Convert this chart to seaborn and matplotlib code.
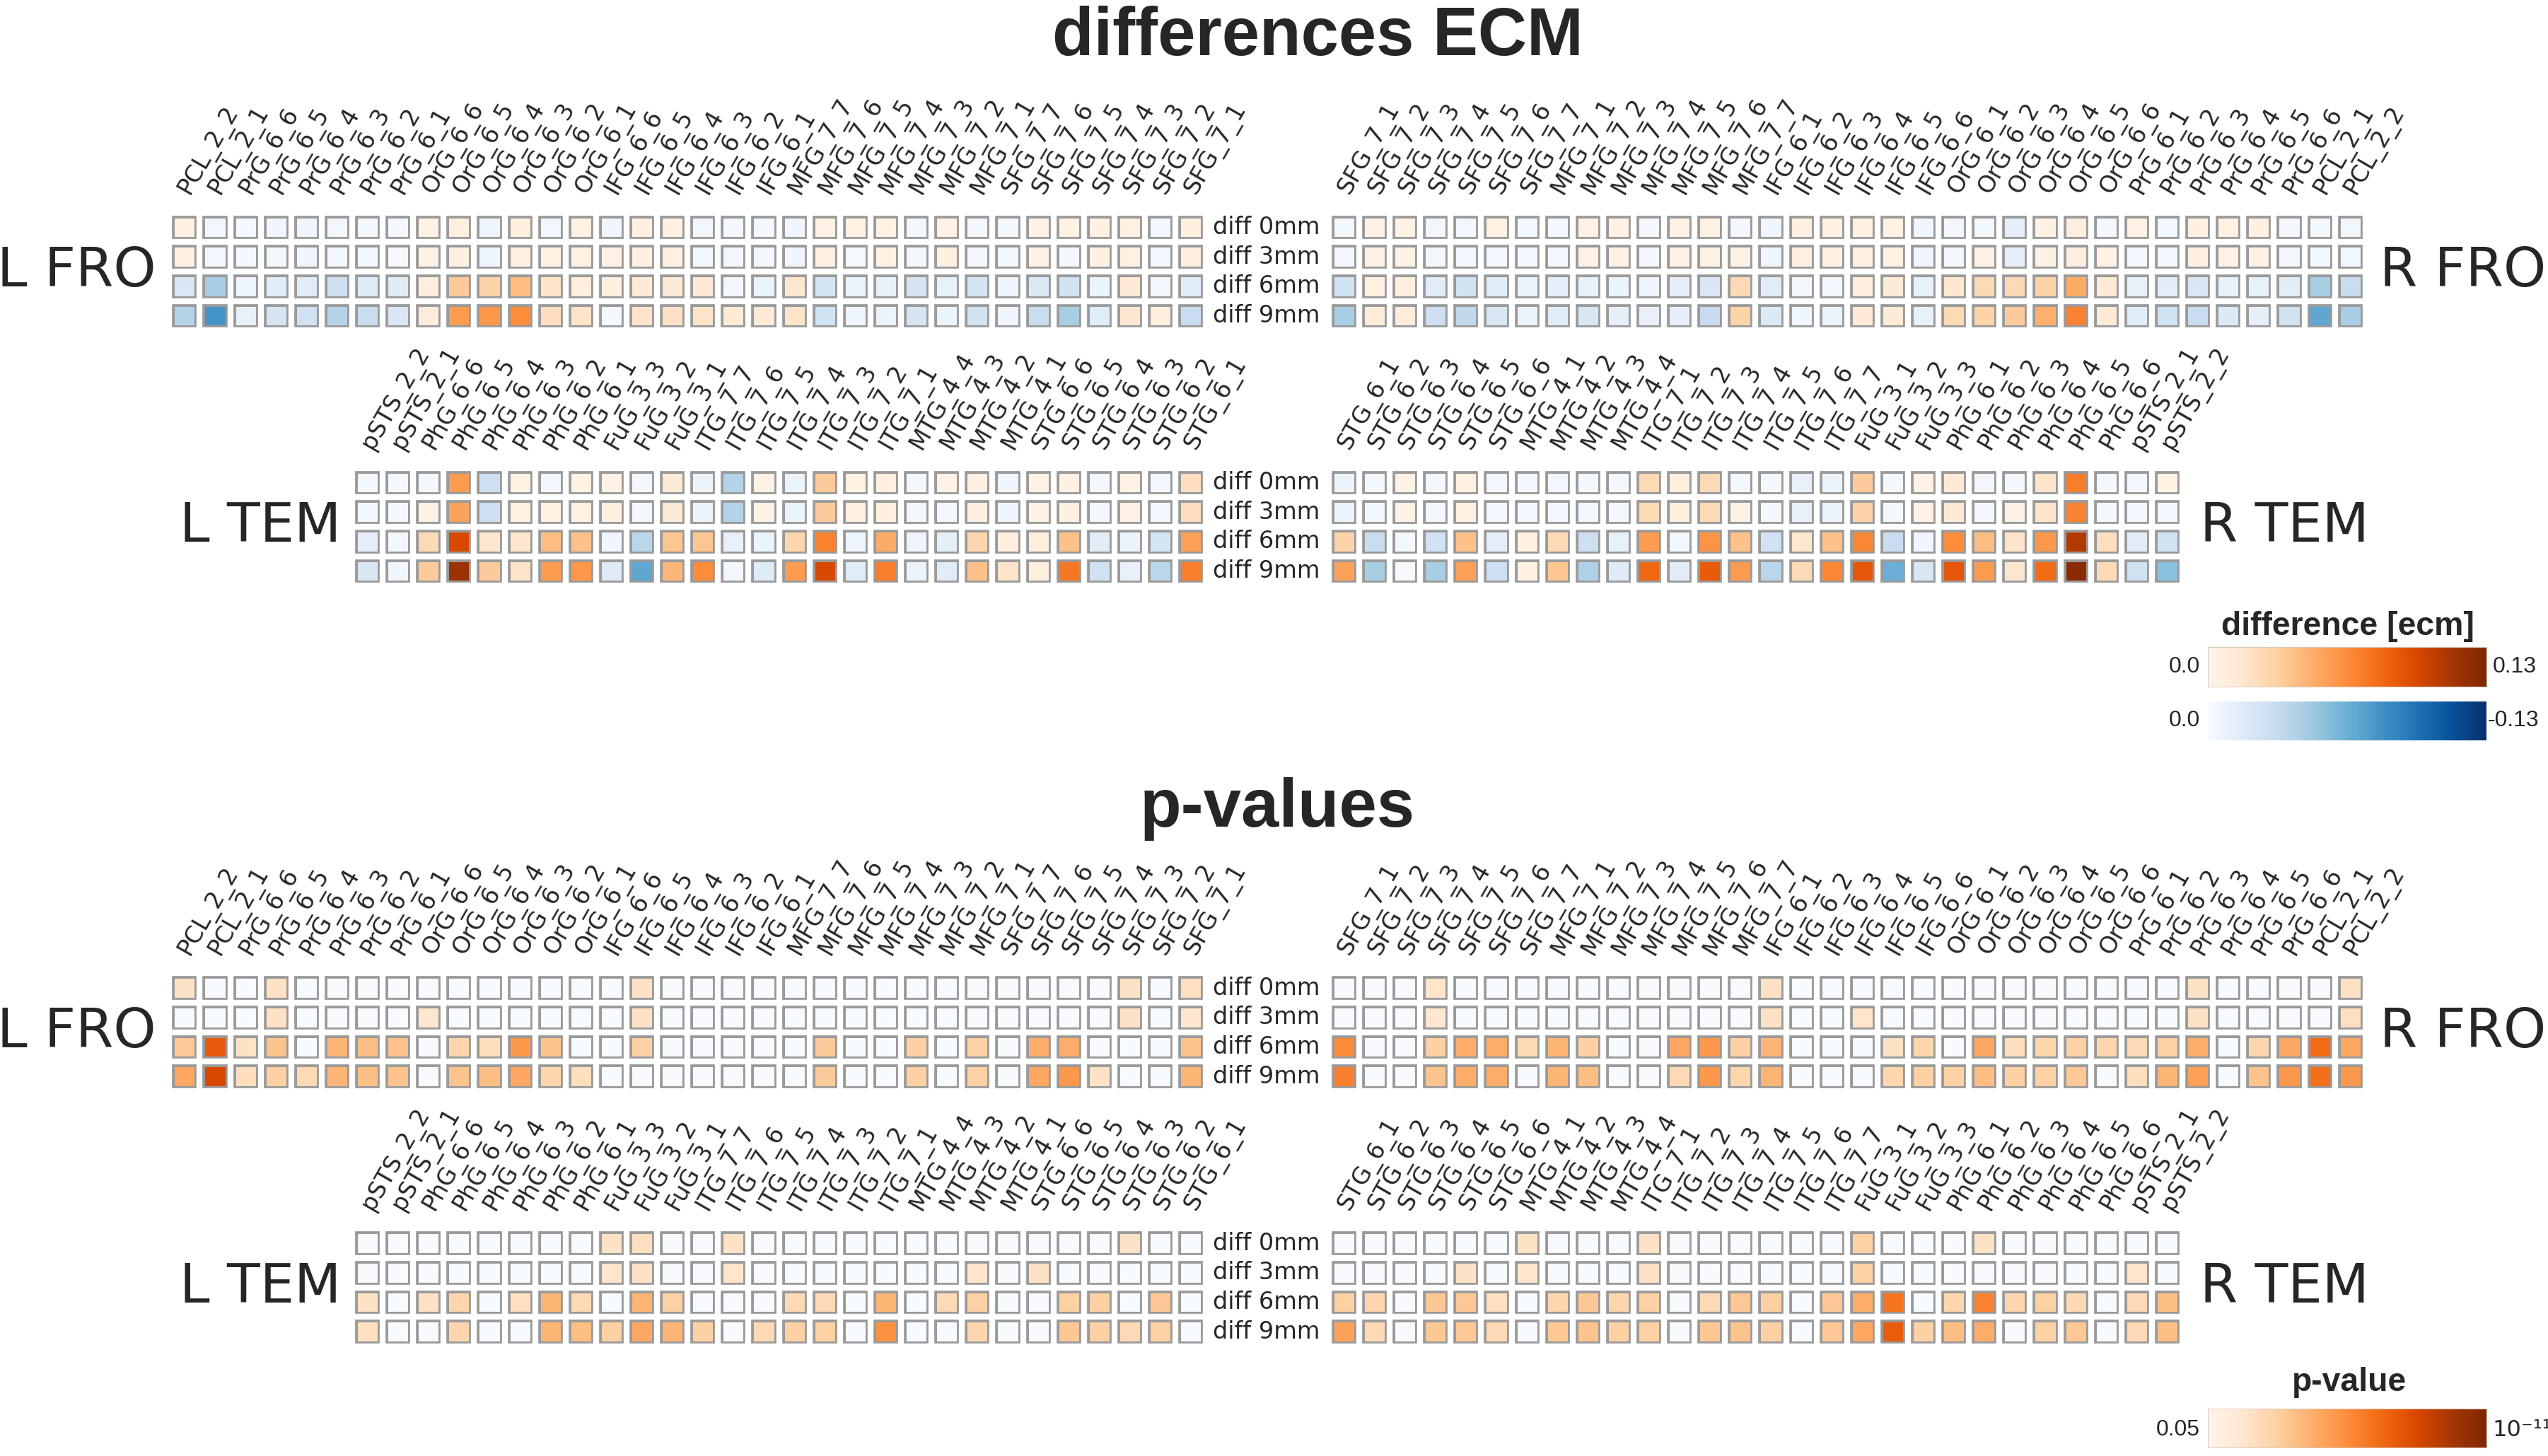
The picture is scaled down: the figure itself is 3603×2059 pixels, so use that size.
#!/usr/bin/env python3
"""
ECM differences and p-values per parcel (frontal / temporal, left / right)
"""

import matplotlib
matplotlib.use("Agg")
import matplotlib.pyplot as plt
import seaborn as sns
import pandas as pd
import numpy as np
from matplotlib.colors import ListedColormap, Normalize
from matplotlib.cm import ScalarMappable

# parcel names in left-hemisphere order; the right hemisphere is mirrored
FRO_LABELS = ['PCL_2_2', 'PCL_2_1', 'PrG_6_6', 'PrG_6_5', 'PrG_6_4', 'PrG_6_3',
              'PrG_6_2', 'PrG_6_1', 'OrG_6_6', 'OrG_6_5', 'OrG_6_4', 'OrG_6_3',
              'OrG_6_2', 'OrG_6_1', 'IFG_6_6', 'IFG_6_5', 'IFG_6_4', 'IFG_6_3',
              'IFG_6_2', 'IFG_6_1', 'MFG_7_7', 'MFG_7_6', 'MFG_7_5', 'MFG_7_4',
              'MFG_7_3', 'MFG_7_2', 'MFG_7_1', 'SFG_7_7', 'SFG_7_6', 'SFG_7_5',
              'SFG_7_4', 'SFG_7_3', 'SFG_7_2', 'SFG_7_1']
TEM_LABELS = ['pSTS_2_2', 'pSTS_2_1', 'PhG_6_6', 'PhG_6_5', 'PhG_6_4', 'PhG_6_3',
              'PhG_6_2', 'PhG_6_1', 'FuG_3_3', 'FuG_3_2', 'FuG_3_1', 'ITG_7_7',
              'ITG_7_6', 'ITG_7_5', 'ITG_7_4', 'ITG_7_3', 'ITG_7_2', 'ITG_7_1',
              'MTG_4_4', 'MTG_4_3', 'MTG_4_2', 'MTG_4_1', 'STG_6_6', 'STG_6_5',
              'STG_6_4', 'STG_6_3', 'STG_6_2', 'STG_6_1']
ROW_LABELS = ['diff 0mm', 'diff 3mm', 'diff 6mm', 'diff 9mm']

# ECM differences, one list per row (0, 3, 6, 9 mm)
DIFF_L_FRO = [
    [0.006, -0.004, -0.003, -0.005, -0.006, -0.004, -0.003, -0.003, 0.005, 0.007,
     -0.006, 0.007, -0.004, 0.005, -0.005, 0.006, 0.006, -0.004, -0.003, -0.003,
     -0.005, 0.005, 0.005, 0.005, -0.003, 0.005, -0.003, -0.003, 0.005, 0.005,
     0.006, 0.006, -0.003, 0.007],
    [0.006, -0.004, -0.003, -0.004, -0.005, -0.003, -0.003, -0.002, 0.005, 0.006,
     -0.005, 0.006, 0.004, 0.004, 0.004, 0.006, 0.006, -0.004, -0.004, -0.004,
     -0.005, 0.006, -0.002, 0.004, -0.003, 0.006, -0.004, -0.003, 0.005, -0.003,
     0.006, 0.006, -0.003, 0.007],
    [-0.02, -0.045, -0.006, -0.015, -0.015, -0.028, -0.016, -0.016, 0.008, 0.035,
     0.03, 0.042, 0.018, 0.008, 0.007, 0.012, 0.012, 0.012, -0.004, -0.008,
     0.015, -0.022, -0.008, -0.01, -0.022, -0.01, -0.022, -0.006, -0.018, -0.025,
     -0.008, 0.012, -0.004, -0.015],
    [-0.04, -0.08, -0.01, -0.022, -0.025, -0.04, -0.03, -0.02, 0.01, 0.058,
     0.06, 0.065, 0.022, 0.018, -0.003, 0.018, 0.02, 0.018, 0.012, 0.012,
     0.018, -0.025, -0.006, -0.008, -0.022, -0.008, -0.025, -0.006, -0.03, -0.045,
     -0.015, 0.015, 0.008, -0.03],
]
DIFF_R_FRO = [
    [-0.003, 0.005, 0.005, -0.004, -0.004, 0.005, -0.003, -0.003, 0.005, 0.005,
     -0.003, 0.005, 0.005, -0.003, -0.005, 0.006, 0.006, 0.006, 0.005, -0.005,
     -0.004, -0.003, -0.012, 0.005, 0.008, -0.003, 0.005, -0.003, 0.006, 0.006,
     0.006, -0.003, -0.003, -0.004],
    [-0.004, 0.005, 0.005, -0.004, -0.004, -0.003, -0.003, -0.004, 0.005, 0.005,
     -0.003, 0.005, 0.005, 0.004, -0.005, 0.006, 0.006, 0.006, 0.005, -0.006,
     -0.004, 0.004, -0.012, 0.005, 0.008, 0.004, -0.003, -0.003, 0.006, 0.005,
     0.005, -0.003, -0.003, -0.004],
    [-0.025, 0.006, 0.007, -0.015, -0.025, -0.015, -0.008, -0.013, -0.01, -0.008,
     -0.006, -0.012, -0.02, 0.025, -0.015, -0.004, -0.004, 0.008, 0.012, -0.01,
     0.015, 0.025, 0.025, 0.03, 0.05, 0.012, -0.01, -0.014, -0.02, -0.01,
     -0.01, -0.014, -0.045, -0.03],
    [-0.045, 0.01, 0.01, -0.028, -0.035, -0.02, -0.008, -0.015, -0.02, -0.012,
     -0.01, -0.012, -0.032, 0.03, -0.018, -0.005, -0.008, 0.012, 0.012, -0.01,
     0.025, 0.03, 0.035, 0.048, 0.07, 0.012, -0.015, -0.025, -0.03, -0.018,
     -0.012, -0.025, -0.07, -0.045],
]
DIFF_L_TEM = [
    [-0.003, -0.003, -0.003, 0.058, -0.028, 0.005, -0.003, 0.005, 0.005, -0.003,
     0.012, -0.008, -0.04, 0.005, -0.008, 0.035, 0.005, 0.007, -0.003, 0.005,
     0.006, -0.005, 0.005, 0.006, -0.003, 0.005, -0.003, 0.022],
    [-0.003, -0.003, 0.005, 0.055, -0.028, 0.005, 0.005, 0.005, 0.006, -0.003,
     0.012, -0.008, -0.04, 0.005, -0.008, 0.035, 0.006, 0.007, -0.004, -0.003,
     0.006, -0.005, 0.005, 0.006, -0.003, 0.005, -0.003, 0.022],
    [-0.012, -0.004, 0.025, 0.098, 0.015, 0.015, 0.042, 0.04, -0.005, -0.038,
     0.038, 0.038, -0.01, -0.008, 0.028, 0.07, -0.006, 0.05, -0.006, -0.012,
     0.028, 0.008, 0.008, 0.04, -0.014, -0.008, -0.022, 0.055],
    [-0.02, -0.005, 0.035, 0.118, 0.035, 0.018, 0.058, 0.06, -0.016, -0.07,
     0.045, 0.065, -0.004, -0.016, 0.058, 0.098, -0.015, 0.072, -0.008, -0.015,
     0.04, 0.018, 0.007, 0.075, -0.025, -0.01, -0.038, 0.072],
]
DIFF_R_TEM = [
    [-0.008, -0.003, 0.005, -0.003, 0.006, -0.003, -0.003, -0.004, -0.003, -0.003,
     0.025, 0.008, 0.025, -0.003, -0.003, -0.01, -0.008, 0.035, -0.003, 0.005,
     0.012, -0.004, -0.003, 0.018, 0.072, -0.003, -0.003, 0.005],
    [-0.008, -0.003, 0.005, -0.003, 0.005, -0.003, -0.003, -0.004, -0.003, -0.003,
     0.025, 0.008, 0.025, 0.005, -0.003, -0.01, -0.008, 0.03, -0.003, 0.004,
     0.012, -0.004, 0.004, 0.018, 0.07, -0.003, -0.003, -0.003],
    [0.03, -0.03, -0.003, -0.025, 0.04, -0.012, 0.006, 0.025, -0.028, -0.01,
     0.058, -0.003, 0.062, 0.04, -0.025, 0.015, 0.04, 0.068, -0.03, -0.005,
     0.065, 0.042, 0.018, 0.06, 0.11, 0.022, -0.014, -0.025],
    [0.055, -0.045, -0.002, -0.045, 0.055, -0.028, 0.006, 0.038, -0.042, -0.016,
     0.082, -0.014, 0.088, 0.058, -0.038, 0.025, 0.068, 0.09, -0.065, -0.02,
     0.09, 0.058, 0.015, 0.08, 0.125, 0.025, -0.025, -0.055],
]

# p-values as -log10(p); 0 marks p >= 0.05 (not significant)
PLOG_L_FRO = [
    [2.75, 0, 0, 2.75, 0, 0, 0, 0, 0, 0, 0, 0, 0, 0, 0, 2.75, 0, 0, 0, 0,
     0, 0, 0, 0, 0, 0, 0, 0, 0, 0, 0, 2.75, 0, 2.9],
    [0, 0, 0, 2.75, 0, 0, 0, 0, 2.5, 0, 0, 0, 0, 0, 0, 2.75, 0, 0, 0, 0,
     0, 0, 0, 0, 0, 0, 0, 0, 0, 0, 0, 2.75, 0, 2.5],
    [4.0, 7.9, 2.75, 4.2, 0, 4.7, 4.4, 4.2, 0, 3.4, 3.0, 5.7, 4.2, 0, 0, 3.7, 0, 0, 0, 0,
     0, 3.9, 0, 0, 3.7, 0, 3.7, 0, 5.0, 5.0, 0, 0, 0, 4.2],
    [5.2, 8.6, 3.0, 3.7, 3.2, 4.7, 4.4, 4.2, 0, 4.2, 4.4, 5.2, 3.4, 3.0, 0, 0, 0, 0, 0, 0,
     0, 3.9, 0, 0, 3.7, 0, 3.7, 0, 5.2, 5.7, 2.75, 0, 0, 4.7],
]
PLOG_R_FRO = [
    [0, 0, 0, 2.6, 0, 0, 0, 0, 0, 0, 0, 0, 0, 0, 2.75, 0, 0, 0, 0, 0,
     0, 0, 0, 0, 0, 0, 0, 0, 2.75, 0, 0, 0, 0, 2.75],
    [0, 0, 0, 2.5, 0, 0, 0, 0, 0, 0, 0, 0, 0, 0, 2.75, 0, 0, 2.6, 0, 0,
     0, 0, 0, 0, 0, 0, 0, 0, 2.75, 0, 0, 0, 0, 2.9],
    [6.2, 0, 0, 3.7, 5.0, 5.0, 3.2, 4.7, 3.7, 0, 0, 5.2, 5.7, 3.7, 4.7, 0, 0, 0, 2.75, 3.4,
     0, 5.2, 3.0, 3.4, 3.7, 3.4, 3.2, 3.7, 5.0, 0, 3.4, 5.2, 7.3, 5.2],
    [6.6, 0, 0, 4.2, 5.0, 5.0, 0, 4.7, 4.4, 0, 0, 3.2, 5.7, 3.4, 4.7, 0, 0, 0, 3.4, 3.7,
     3.7, 4.4, 3.7, 3.7, 4.0, 0, 3.0, 4.7, 5.4, 0, 4.2, 5.7, 7.1, 5.7],
]
PLOG_L_TEM = [
    [0, 0, 0, 0, 0, 0, 0, 0, 2.75, 2.9, 0, 0, 2.75, 0, 0, 0, 0, 0, 0, 0,
     0, 0, 0, 0, 0, 2.75, 0, 0],
    [0, 0, 0, 0, 0, 0, 0, 0, 2.6, 2.75, 0, 0, 2.6, 0, 0, 0, 0, 0, 0, 0,
     2.6, 0, 2.75, 0, 0, 0, 0, 0],
    [2.75, 0, 2.75, 3.4, 0, 2.9, 4.7, 3.2, 0, 4.7, 3.7, 0, 0, 0, 3.2, 3.2, 0, 4.7, 0, 3.2,
     3.7, 0, 0, 3.7, 3.7, 0, 4.0, 0],
    [2.9, 0, 0, 3.4, 0, 0, 4.7, 4.4, 3.7, 5.2, 4.7, 3.7, 0, 3.2, 3.7, 3.7, 0, 6.0, 0, 0,
     3.4, 0, 0, 4.0, 3.7, 3.2, 3.7, 0],
]
PLOG_R_TEM = [
    [0, 0, 0, 0, 0, 0, 2.75, 0, 0, 0, 2.75, 0, 0, 0, 0, 0, 0, 3.7, 0, 0,
     0, 2.75, 0, 0, 0, 0, 0, 0],
    [0, 0, 0, 0, 2.75, 0, 2.6, 0, 0, 0, 2.75, 0, 0, 0, 0, 0, 0, 3.7, 0, 0,
     0, 0, 0, 0, 0, 0, 2.6, 0],
    [3.7, 3.4, 0, 4.0, 4.0, 2.9, 0, 3.4, 4.0, 3.4, 3.7, 0, 3.2, 4.0, 3.7, 0, 4.0, 5.0, 7.0, 0,
     3.4, 6.5, 3.4, 3.7, 3.2, 0, 3.2, 4.4],
    [5.4, 3.2, 0, 4.0, 4.0, 3.2, 0, 4.0, 4.2, 3.7, 3.7, 0, 4.0, 4.2, 3.7, 0, 4.0, 5.2, 7.8, 3.7,
     4.4, 5.0, 0, 3.7, 4.0, 0, 3.2, 4.4],
]

DIFF_MAX = 0.13
P_MIN_LOG = -np.log10(0.05)
P_MAX_LOG = 11

# Set style
sns.set_style("white")
plt.rcParams['font.family'] = ['DejaVu Sans']
BOLD = ['Liberation Sans', 'DejaVu Sans']

DPI = 230
W, H = 1566.0, 895.0          # layout grid (figure pixels / 2.3)
PITCH = 18.74                 # one cell
ROWS_H = 4 * 18.1
EDGE = '#9a9a9a'
GAP = 2.6                     # white gap between cells, points
FRAME = 0.75                  # gray frame round each cell, points

# diverging map: Blues for negative, Oranges for positive
diff_cmap = ListedColormap(np.vstack([plt.get_cmap('Blues')(np.linspace(1, 0, 256)),
                                      plt.get_cmap('Oranges')(np.linspace(0, 1, 256))]))
p_cmap = plt.get_cmap('Oranges').copy()
p_cmap.set_under(plt.get_cmap('Blues')(0.0))

fig = plt.figure(figsize=(3603 / DPI, 2059 / DPI), dpi=DPI)


def place(x0, y0, w, h):
    return fig.add_axes([x0 / W, 1 - (y0 + h) / H, w / W, h / H])


def ftext(x, y, s, **kw):
    fig.text(x / W, 1 - y / H, s, **kw)


def draw_panel(x0, y0, values, labels, cmap, vmin, vmax, row_names=False):
    ax = place(x0, y0, PITCH * len(labels), ROWS_H)
    df = pd.DataFrame(values, index=ROW_LABELS, columns=labels)
    sns.heatmap(df, ax=ax, cmap=cmap, vmin=vmin, vmax=vmax, cbar=False,
                linewidths=GAP + 2 * FRAME, linecolor=EDGE,
                xticklabels=True, yticklabels=True)
    # white gaps down the middle of the gray cell lines
    nr, nc = df.shape
    ax.vlines(np.arange(nc + 1), 0, nr, color='white', lw=GAP)
    ax.hlines(np.arange(nr + 1), 0, nc, color='white', lw=GAP)

    ax.xaxis.tick_top()
    ax.set_xticklabels(labels, rotation=60, ha='left', va='center',
                       rotation_mode='anchor', fontsize=10.5)
    if row_names:
        ax.yaxis.tick_right()
        ax.set_yticklabels(ROW_LABELS, rotation=0, fontsize=10.5, va='center')
    else:
        ax.set_yticks([])
    ax.tick_params(axis='x', length=0, pad=9)
    ax.tick_params(axis='y', length=0, pad=3)
    ax.set_xlabel('')
    ax.set_ylabel('')
    return ax


def draw_section(dy, l_fro, r_fro, l_tem, r_tem, cmap, vmin, vmax):
    fro_w = PITCH * len(FRO_LABELS)
    tem_w = PITCH * len(TEM_LABELS)
    lx, rx = 104.0, 816.6
    ltx = lx + fro_w - tem_w
    fro_y, tem_y = 130.7 + dy, 287.6 + dy

    draw_panel(lx, fro_y, l_fro, FRO_LABELS, cmap, vmin, vmax, row_names=True)
    draw_panel(rx, fro_y, r_fro, FRO_LABELS[::-1], cmap, vmin, vmax)
    draw_panel(ltx, tem_y, l_tem, TEM_LABELS, cmap, vmin, vmax, row_names=True)
    draw_panel(rx, tem_y, r_tem, TEM_LABELS[::-1], cmap, vmin, vmax)

    ftext(lx - 8, fro_y + ROWS_H / 2, 'L FRO', ha='right', va='center', fontsize=24)
    ftext(rx + fro_w + 9, fro_y + ROWS_H / 2, 'R FRO', ha='left', va='center', fontsize=24)
    ftext(ltx - 7, tem_y + ROWS_H / 2, 'L TEM', ha='right', va='center', fontsize=24)
    ftext(rx + tem_w + 11, tem_y + ROWS_H / 2, 'R TEM', ha='left', va='center', fontsize=24)


def add_cbar(x0, y0, y1, cmap, norm):
    cax = place(x0, y0, 1528 - x0, y1 - y0)
    cb = fig.colorbar(ScalarMappable(norm=norm, cmap=cmap), cax=cax, orientation='horizontal')
    cb.set_ticks([])
    cb.outline.set_linewidth(0.3)
    cb.outline.set_edgecolor('#d8c8b8')
    return cb


# differences
ftext(810, 34, 'differences ECM', ha='center', va='baseline', fontsize=30,
      fontweight='bold', family=BOLD)
draw_section(0, DIFF_L_FRO, DIFF_R_FRO, DIFF_L_TEM, DIFF_R_TEM,
             diff_cmap, -DIFF_MAX, DIFF_MAX)

ftext(1443, 385, 'difference [ecm]', ha='center', va='center', fontsize=14.5,
      fontweight='bold', family=BOLD)
add_cbar(1357, 397.7, 422, 'Oranges', Normalize(0, DIFF_MAX))
cb = add_cbar(1357, 431, 455, 'Blues', Normalize(0, DIFF_MAX))
cb.outline.set_visible(False)
ftext(1352, 410, '0.0', ha='right', va='center', fontsize=10, family=BOLD)
ftext(1532, 410, '0.13', ha='left', va='center', fontsize=10, family=BOLD)
ftext(1352, 443, '0.0', ha='right', va='center', fontsize=10, family=BOLD)
ftext(1529, 443, '-0.13', ha='left', va='center', fontsize=10, family=BOLD)

# p-values
P_SHIFT = 467.6
ftext(785, 508, 'p-values', ha='center', va='baseline', fontsize=30,
      fontweight='bold', family=BOLD)
draw_section(P_SHIFT, PLOG_L_FRO, PLOG_R_FRO, PLOG_L_TEM, PLOG_R_TEM,
             p_cmap, P_MIN_LOG, P_MAX_LOG)

ftext(1444, 850, 'p-value', ha='center', va='center', fontsize=14.5,
      fontweight='bold', family=BOLD)
add_cbar(1357, 866, 890, 'Oranges', Normalize(P_MIN_LOG, P_MAX_LOG))
ftext(1352, 879, '0.05', ha='right', va='center', fontsize=10, family=BOLD)
ftext(1532, 879, '10\u207b\u00b9\u00b9', ha='left', va='center', fontsize=10,
      family=['DejaVu Sans'])

fig.savefig('out.png', dpi=DPI)
plt.close(fig)
